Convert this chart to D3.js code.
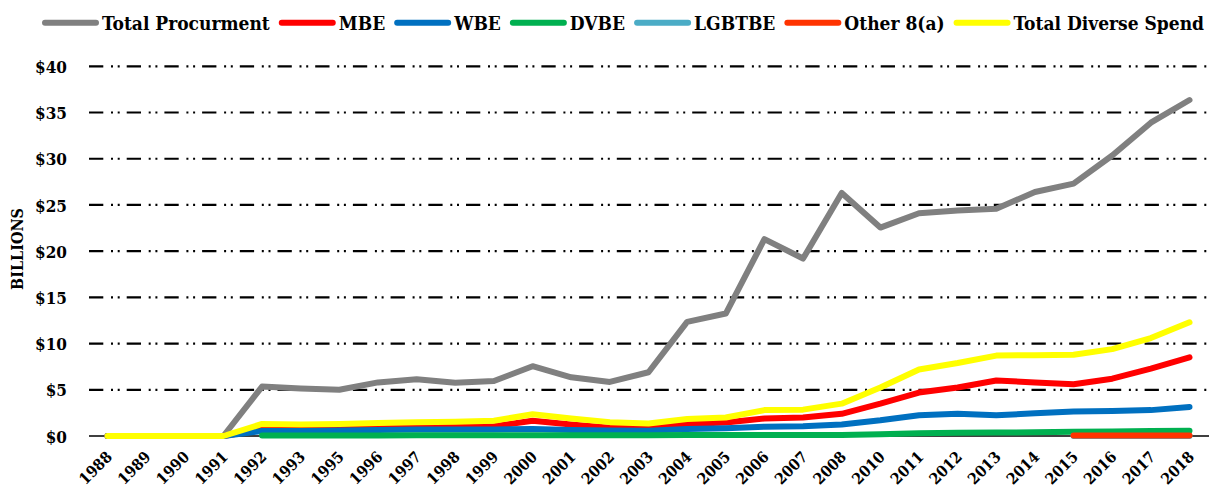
<!DOCTYPE html>
<html><head><meta charset="utf-8">
<script src="https://cdn.jsdelivr.net/npm/d3@7"></script>
<style>
html,body{margin:0;padding:0;background:#fff;}
text{font-family:"DejaVu Serif Condensed","DejaVu Serif",serif;font-weight:bold;font-stretch:condensed;fill:#000;}
</style></head>
<body><svg id="chart" width="1209" height="491"></svg>
<script>
const categories = ["1988","1989","1990","1991","1992","1993","1995","1996","1997","1998","1999","2000","2001","2002","2003","2004","2005","2006","2007","2008","2010","2011","2012","2013","2014","2015","2016","2017","2018"];
const totalProcurement = [0,0,0,0,5.35,5.15,5.0,5.8,6.15,5.75,5.95,7.55,6.35,5.85,6.9,12.35,13.25,21.3,19.2,26.3,22.55,24.1,24.4,24.6,26.4,27.3,30.35,33.9,36.35];
const mbe = [0,0,0,0,0.7,0.7,0.75,0.85,0.95,1.0,1.05,1.65,1.25,0.9,0.85,1.3,1.45,1.9,2.0,2.4,3.5,4.7,5.25,6.0,5.8,5.6,6.2,7.3,8.5];
const wbe = [0,0,0,0,0.55,0.55,0.6,0.65,0.7,0.7,0.7,0.75,0.65,0.6,0.58,0.75,0.85,1.0,1.05,1.25,1.7,2.25,2.4,2.25,2.45,2.65,2.7,2.8,3.15];
const dvbe = [null,null,null,null,0.05,0.05,0.05,0.05,0.07,0.07,0.07,0.08,0.08,0.08,0.08,0.1,0.1,0.1,0.1,0.1,0.2,0.3,0.35,0.38,0.4,0.47,0.5,0.55,0.58];
const lgbtbe = [null,null,null,null,null,null,null,null,null,null,null,null,null,null,null,null,null,null,null,null,null,null,null,null,null,0,0,0,0];
const other8a = [null,null,null,null,null,null,null,null,null,null,null,null,null,null,null,null,null,null,null,null,null,null,null,null,null,0.05,0.05,0.05,0.05];
const totalDiverse = [0,0,0,0,1.3,1.25,1.3,1.4,1.5,1.55,1.65,2.35,1.9,1.5,1.35,1.85,2.0,2.8,2.85,3.5,5.25,7.2,7.9,8.7,8.75,8.8,9.4,10.6,12.3];
const yTicks = [0,5,10,15,20,25,30,35,40];
const yTickLabels = ["$0","$5","$10","$15","$20","$25","$30","$35","$40"];
const seriesNames = ["Total Procurment","MBE","WBE","DVBE","LGBTBE","Other 8(a)","Total Diverse Spend"];
const seriesColors = ["#808080","#FF0000","#0070C0","#00B050","#4BACC6","#FF3300","#FFFF00"];
const seriesValues = [totalProcurement,mbe,wbe,dvbe,lgbtbe,other8a,totalDiverse];

const svg = d3.select("#chart");
svg.append("rect").attr("width",1209).attr("height",491).attr("fill","#fff");

const plotLeft = 89, plotRight = 1209;
const x = d3.scalePoint().domain(categories).range([107.5, 1189.5]);
const y = d3.scaleLinear().domain([0,40]).range([436, 66.3]);

// gridlines
const grid = svg.append("g");
grid.selectAll("line").data(yTicks.filter(t=>t>0)).join("line")
  .attr("x1",plotLeft).attr("x2",plotRight)
  .attr("y1",d=>y(d)).attr("y2",d=>y(d))
  .attr("stroke","#000").attr("stroke-width",2.2)
  .attr("stroke-dasharray","14.3,7.7,2,4.7,2,7");
svg.append("line").attr("x1",plotLeft).attr("x2",plotRight)
  .attr("y1",y(0)).attr("y2",y(0)).attr("stroke","#000").attr("stroke-width",1.5);

// y axis labels
const yAxis = d3.axisLeft(y).tickValues(yTicks).tickFormat((d,i)=>yTickLabels[i]).tickSize(0).tickPadding(0);
const yg = svg.append("g").attr("transform","translate(67,0)").call(yAxis);
yg.select(".domain").remove();
yg.selectAll("text").attr("font-size",17).attr("font-family",null).attr("dy","0.36em");

// x axis labels
const xAxis = d3.axisBottom(x).tickSize(0).tickPadding(0);
const xg = svg.append("g").attr("transform","translate(0,436)").call(xAxis);
xg.select(".domain").remove();
xg.selectAll("text").attr("font-size",15.5).attr("font-family",null)
  .attr("text-anchor","end").attr("dy",0).attr("y",0)
  .attr("transform","translate(5,22) rotate(-45)");

// axis title
svg.append("text").attr("transform","translate(23,249) rotate(-90)")
  .attr("text-anchor","middle").attr("font-size",16).text("BILLIONS");

// lines
const line = d3.line().defined(d=>d!=null).x((d,i)=>x(categories[i])).y(d=>y(d));
seriesValues.forEach((vals,k)=>{
  svg.append("path").attr("d",line(vals)).attr("fill","none")
    .attr("stroke",seriesColors[k]).attr("stroke-width",6)
    .attr("stroke-linecap","round").attr("stroke-linejoin","round");
});

// legend
const lg = svg.append("g");
let lx = 42; const ly = 22.7;
seriesNames.forEach((n,k)=>{
  lg.append("line").attr("x1",lx+3).attr("x2",lx+54).attr("y1",ly).attr("y2",ly)
    .attr("stroke",seriesColors[k]).attr("stroke-width",6).attr("stroke-linecap","round");
  const t = lg.append("text").attr("x",lx+60).attr("y",ly).attr("dy","0.36em")
    .attr("font-size",19).text(n);
  lx += 60 + t.node().getComputedTextLength() + 9;
});
</script></body></html>
